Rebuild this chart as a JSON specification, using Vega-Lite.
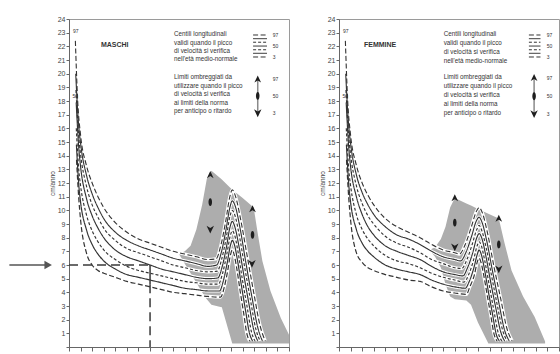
{
"$schema": "https://vega.github.io/schema/vega-lite/v6.json",
"padding": {"left": 8, "top": 14, "right": 2, "bottom": 0},
"background": "white",
"spacing": 28,
"config": {
 "view": {"stroke": "#9a9a9a", "strokeWidth": 1},
 "axis": {"grid": false, "domainColor": "#666", "tickColor": "#666", "labelColor": "#444", "labelFont": "Liberation Sans", "labelFontSize": 7, "titleFont": "Liberation Sans", "titleFontSize": 6.5, "titleFontWeight": "normal", "titleColor": "#444", "tickSize": 3, "labelPadding": 1, "titlePadding": 2}
},
"datasets": {
 "grey": [
  {"s":"M","a":9.5,"v":6.8,"v2":6.8},{"s":"M","a":10.0,"v":7.0,"v2":6.1},{"s":"M","a":10.5,"v":7.4,"v2":5.4},{"s":"M","a":11.0,"v":8.6,"v2":4.7},{"s":"M","a":11.5,"v":10.4,"v2":4.0},{"s":"M","a":11.9,"v":12.3,"v2":3.5},{"s":"M","a":12.3,"v":12.9,"v2":3.1},{"s":"M","a":13.0,"v":12.4,"v2":2.95},{"s":"M","a":13.2,"v":12.25,"v2":2.9},{"s":"M","a":14.1,"v":11.5,"v2":0.25},{"s":"M","a":15.0,"v":10.9,"v2":0.25},{"s":"M","a":15.95,"v":10.2,"v2":0.25},{"s":"M","a":16.3,"v":8.3,"v2":0.25},{"s":"M","a":16.7,"v":6.3,"v2":0.25},{"s":"M","a":17.4,"v":4.1,"v2":0.25},{"s":"M","a":18.3,"v":2.1,"v2":0.25},{"s":"M","a":19.0,"v":0.9,"v2":0.25},
  {"s":"F","a":7.8,"v":7.1,"v2":7.1},{"s":"F","a":8.3,"v":7.3,"v2":6.6},{"s":"F","a":8.8,"v":7.9,"v2":5.8},{"s":"F","a":9.2,"v":8.8,"v2":4.6},{"s":"F","a":9.6,"v":10.2,"v2":3.7},{"s":"F","a":10.0,"v":10.9,"v2":3.5},{"s":"F","a":11.0,"v":10.5,"v2":3.4},{"s":"F","a":11.4,"v":10.35,"v2":3.1},{"s":"F","a":12.0,"v":10.1,"v2":1.8},{"s":"F","a":12.9,"v":9.75,"v2":0.25},{"s":"F","a":13.8,"v":9.4,"v2":0.25},{"s":"F","a":14.3,"v":7.6,"v2":0.25},{"s":"F","a":14.9,"v":5.6,"v2":0.25},{"s":"F","a":15.9,"v":3.7,"v2":0.25},{"s":"F","a":16.9,"v":2.2,"v2":0.25},{"s":"F","a":17.8,"v":0.4,"v2":0.25}
 ],
 "curves": [
  {"s":"M","c":"97","a":0.55,"v":22.4},{"s":"M","c":"97","a":0.75,"v":18.0},{"s":"M","c":"97","a":1.0,"v":15.5},{"s":"M","c":"97","a":1.5,"v":13.3},{"s":"M","c":"97","a":2.0,"v":12.0},{"s":"M","c":"97","a":2.5,"v":11.0},{"s":"M","c":"97","a":3.0,"v":10.2},{"s":"M","c":"97","a":4.0,"v":9.1},{"s":"M","c":"97","a":5.0,"v":8.4},{"s":"M","c":"97","a":6.0,"v":7.9},{"s":"M","c":"97","a":7.0,"v":7.6},{"s":"M","c":"97","a":8.0,"v":7.3},{"s":"M","c":"97","a":9.0,"v":7.0},{"s":"M","c":"97","a":10.0,"v":6.8},{"s":"M","c":"97","a":11.0,"v":6.6},{"s":"M","c":"97","a":12.0,"v":6.4},{"s":"M","c":"97","a":12.7,"v":6.45},{"s":"M","c":"97","a":13.12,"v":7.46},{"s":"M","c":"97","a":13.54,"v":9.23},{"s":"M","c":"97","a":13.89,"v":11.0},{"s":"M","c":"97","a":14.1,"v":11.5},{"s":"M","c":"97","a":14.39,"v":11.0},{"s":"M","c":"97","a":14.81,"v":9.4},{"s":"M","c":"97","a":15.38,"v":6.7},{"s":"M","c":"97","a":15.95,"v":4.0},{"s":"M","c":"97","a":16.52,"v":1.5},{"s":"M","c":"97","a":16.95,"v":0.45},
  {"s":"M","c":"90","a":0.58,"v":20.0},{"s":"M","c":"90","a":0.8,"v":16.6},{"s":"M","c":"90","a":1.0,"v":14.9},{"s":"M","c":"90","a":1.5,"v":12.6},{"s":"M","c":"90","a":2.0,"v":11.2},{"s":"M","c":"90","a":2.5,"v":10.2},{"s":"M","c":"90","a":3.0,"v":9.4},{"s":"M","c":"90","a":4.0,"v":8.4},{"s":"M","c":"90","a":5.0,"v":7.8},{"s":"M","c":"90","a":6.0,"v":7.4},{"s":"M","c":"90","a":7.0,"v":7.1},{"s":"M","c":"90","a":8.0,"v":6.8},{"s":"M","c":"90","a":9.0,"v":6.5},{"s":"M","c":"90","a":10.0,"v":6.3},{"s":"M","c":"90","a":11.0,"v":6.1},{"s":"M","c":"90","a":12.0,"v":5.9},{"s":"M","c":"90","a":12.75,"v":6.0},{"s":"M","c":"90","a":13.16,"v":6.94},{"s":"M","c":"90","a":13.56,"v":8.59},{"s":"M","c":"90","a":13.9,"v":10.23},{"s":"M","c":"90","a":14.1,"v":10.7},{"s":"M","c":"90","a":14.36,"v":10.3},{"s":"M","c":"90","a":14.75,"v":8.8},{"s":"M","c":"90","a":15.27,"v":6.2},{"s":"M","c":"90","a":15.79,"v":3.7},{"s":"M","c":"90","a":16.31,"v":1.4},{"s":"M","c":"90","a":16.7,"v":0.45},
  {"s":"M","c":"75","a":0.6,"v":18.8},{"s":"M","c":"75","a":0.82,"v":15.6},{"s":"M","c":"75","a":1.0,"v":14.1},{"s":"M","c":"75","a":1.5,"v":11.8},{"s":"M","c":"75","a":2.0,"v":10.4},{"s":"M","c":"75","a":2.5,"v":9.5},{"s":"M","c":"75","a":3.0,"v":8.7},{"s":"M","c":"75","a":4.0,"v":7.8},{"s":"M","c":"75","a":5.0,"v":7.2},{"s":"M","c":"75","a":6.0,"v":6.9},{"s":"M","c":"75","a":7.0,"v":6.6},{"s":"M","c":"75","a":8.0,"v":6.3},{"s":"M","c":"75","a":9.0,"v":6.0},{"s":"M","c":"75","a":10.0,"v":5.8},{"s":"M","c":"75","a":11.0,"v":5.6},{"s":"M","c":"75","a":12.0,"v":5.5},{"s":"M","c":"75","a":12.8,"v":5.55},{"s":"M","c":"75","a":13.19,"v":6.44},{"s":"M","c":"75","a":13.58,"v":8.0},{"s":"M","c":"75","a":13.9,"v":9.56},{"s":"M","c":"75","a":14.1,"v":10.0},{"s":"M","c":"75","a":14.34,"v":9.6},{"s":"M","c":"75","a":14.7,"v":8.2},{"s":"M","c":"75","a":15.18,"v":5.8},{"s":"M","c":"75","a":15.66,"v":3.5},{"s":"M","c":"75","a":16.14,"v":1.3},{"s":"M","c":"75","a":16.5,"v":0.45},
  {"s":"M","c":"50","a":0.62,"v":17.9},{"s":"M","c":"50","a":0.85,"v":14.5},{"s":"M","c":"50","a":1.0,"v":13.2},{"s":"M","c":"50","a":1.5,"v":10.9},{"s":"M","c":"50","a":2.0,"v":9.6},{"s":"M","c":"50","a":2.5,"v":8.7},{"s":"M","c":"50","a":3.0,"v":8.0},{"s":"M","c":"50","a":4.0,"v":7.1},{"s":"M","c":"50","a":5.0,"v":6.6},{"s":"M","c":"50","a":6.0,"v":6.3},{"s":"M","c":"50","a":7.0,"v":6.0},{"s":"M","c":"50","a":8.0,"v":5.7},{"s":"M","c":"50","a":9.0,"v":5.5},{"s":"M","c":"50","a":10.0,"v":5.3},{"s":"M","c":"50","a":11.0,"v":5.1},{"s":"M","c":"50","a":12.0,"v":5.0},{"s":"M","c":"50","a":12.85,"v":5.05},{"s":"M","c":"50","a":13.23,"v":5.88},{"s":"M","c":"50","a":13.6,"v":7.33},{"s":"M","c":"50","a":13.91,"v":8.79},{"s":"M","c":"50","a":14.1,"v":9.2},{"s":"M","c":"50","a":14.32,"v":8.8},{"s":"M","c":"50","a":14.65,"v":7.5},{"s":"M","c":"50","a":15.09,"v":5.3},{"s":"M","c":"50","a":15.53,"v":3.2},{"s":"M","c":"50","a":15.97,"v":1.2},{"s":"M","c":"50","a":16.3,"v":0.45},
  {"s":"M","c":"25","a":0.63,"v":16.0},{"s":"M","c":"25","a":0.85,"v":12.9},{"s":"M","c":"25","a":1.0,"v":11.8},{"s":"M","c":"25","a":1.5,"v":9.7},{"s":"M","c":"25","a":2.0,"v":8.5},{"s":"M","c":"25","a":2.5,"v":7.7},{"s":"M","c":"25","a":3.0,"v":7.1},{"s":"M","c":"25","a":4.0,"v":6.4},{"s":"M","c":"25","a":5.0,"v":5.9},{"s":"M","c":"25","a":6.0,"v":5.6},{"s":"M","c":"25","a":7.0,"v":5.4},{"s":"M","c":"25","a":8.0,"v":5.2},{"s":"M","c":"25","a":9.0,"v":5.0},{"s":"M","c":"25","a":10.0,"v":4.8},{"s":"M","c":"25","a":11.0,"v":4.7},{"s":"M","c":"25","a":12.0,"v":4.6},{"s":"M","c":"25","a":12.9,"v":4.6},{"s":"M","c":"25","a":13.26,"v":5.38},{"s":"M","c":"25","a":13.62,"v":6.75},{"s":"M","c":"25","a":13.92,"v":8.11},{"s":"M","c":"25","a":14.1,"v":8.5},{"s":"M","c":"25","a":14.3,"v":8.2},{"s":"M","c":"25","a":14.59,"v":7.0},{"s":"M","c":"25","a":14.98,"v":4.9},{"s":"M","c":"25","a":15.37,"v":3.0},{"s":"M","c":"25","a":15.76,"v":1.1},{"s":"M","c":"25","a":16.05,"v":0.45},
  {"s":"M","c":"10","a":0.64,"v":14.8},{"s":"M","c":"10","a":0.85,"v":11.8},{"s":"M","c":"10","a":1.0,"v":10.6},{"s":"M","c":"10","a":1.5,"v":8.6},{"s":"M","c":"10","a":2.0,"v":7.5},{"s":"M","c":"10","a":2.5,"v":6.8},{"s":"M","c":"10","a":3.0,"v":6.3},{"s":"M","c":"10","a":4.0,"v":5.7},{"s":"M","c":"10","a":5.0,"v":5.3},{"s":"M","c":"10","a":6.0,"v":5.1},{"s":"M","c":"10","a":7.0,"v":4.9},{"s":"M","c":"10","a":8.0,"v":4.7},{"s":"M","c":"10","a":9.0,"v":4.5},{"s":"M","c":"10","a":10.0,"v":4.3},{"s":"M","c":"10","a":11.0,"v":4.2},{"s":"M","c":"10","a":12.0,"v":4.1},{"s":"M","c":"10","a":13.0,"v":4.1},{"s":"M","c":"10","a":13.33,"v":4.84},{"s":"M","c":"10","a":13.66,"v":6.14},{"s":"M","c":"10","a":13.94,"v":7.43},{"s":"M","c":"10","a":14.1,"v":7.8},{"s":"M","c":"10","a":14.28,"v":7.5},{"s":"M","c":"10","a":14.54,"v":6.4},{"s":"M","c":"10","a":14.89,"v":4.5},{"s":"M","c":"10","a":15.24,"v":2.7},{"s":"M","c":"10","a":15.59,"v":1.0},{"s":"M","c":"10","a":15.85,"v":0.45},
  {"s":"M","c":"3","a":0.65,"v":13.7},{"s":"M","c":"3","a":0.85,"v":10.8},{"s":"M","c":"3","a":1.0,"v":9.3},{"s":"M","c":"3","a":1.5,"v":6.9},{"s":"M","c":"3","a":2.0,"v":6.0},{"s":"M","c":"3","a":2.5,"v":5.6},{"s":"M","c":"3","a":3.0,"v":5.4},{"s":"M","c":"3","a":4.0,"v":5.1},{"s":"M","c":"3","a":5.0,"v":4.8},{"s":"M","c":"3","a":6.0,"v":4.6},{"s":"M","c":"3","a":7.0,"v":4.4},{"s":"M","c":"3","a":8.0,"v":4.2},{"s":"M","c":"3","a":9.0,"v":4.0},{"s":"M","c":"3","a":10.0,"v":3.9},{"s":"M","c":"3","a":11.0,"v":3.8},{"s":"M","c":"3","a":12.0,"v":3.7},{"s":"M","c":"3","a":13.1,"v":3.65},{"s":"M","c":"3","a":13.4,"v":4.34},{"s":"M","c":"3","a":13.7,"v":5.55},{"s":"M","c":"3","a":13.95,"v":6.76},{"s":"M","c":"3","a":14.1,"v":7.1},{"s":"M","c":"3","a":14.25,"v":6.8},{"s":"M","c":"3","a":14.48,"v":5.8},{"s":"M","c":"3","a":14.78,"v":4.1},{"s":"M","c":"3","a":15.08,"v":2.5},{"s":"M","c":"3","a":15.38,"v":0.9},{"s":"M","c":"3","a":15.6,"v":0.45},
  {"s":"F","c":"97","a":0.55,"v":22.4},{"s":"F","c":"97","a":0.75,"v":18.0},{"s":"F","c":"97","a":1.0,"v":15.5},{"s":"F","c":"97","a":1.5,"v":13.3},{"s":"F","c":"97","a":2.0,"v":12.0},{"s":"F","c":"97","a":2.5,"v":11.1},{"s":"F","c":"97","a":3.0,"v":10.4},{"s":"F","c":"97","a":4.0,"v":9.4},{"s":"F","c":"97","a":5.0,"v":8.8},{"s":"F","c":"97","a":6.0,"v":8.4},{"s":"F","c":"97","a":7.0,"v":8.0},{"s":"F","c":"97","a":8.0,"v":7.5},{"s":"F","c":"97","a":9.0,"v":7.1},{"s":"F","c":"97","a":10.0,"v":6.9},{"s":"F","c":"97","a":10.4,"v":6.8},{"s":"F","c":"97","a":10.9,"v":7.5},{"s":"F","c":"97","a":11.4,"v":8.7},{"s":"F","c":"97","a":11.85,"v":9.9},{"s":"F","c":"97","a":12.1,"v":10.2},{"s":"F","c":"97","a":12.39,"v":9.8},{"s":"F","c":"97","a":12.81,"v":8.4},{"s":"F","c":"97","a":13.38,"v":5.9},{"s":"F","c":"97","a":13.95,"v":3.6},{"s":"F","c":"97","a":14.52,"v":1.3},{"s":"F","c":"97","a":14.95,"v":0.45},
  {"s":"F","c":"90","a":0.58,"v":20.0},{"s":"F","c":"90","a":0.8,"v":16.6},{"s":"F","c":"90","a":1.0,"v":14.9},{"s":"F","c":"90","a":1.5,"v":12.6},{"s":"F","c":"90","a":2.0,"v":11.3},{"s":"F","c":"90","a":2.5,"v":10.4},{"s":"F","c":"90","a":3.0,"v":9.7},{"s":"F","c":"90","a":4.0,"v":8.8},{"s":"F","c":"90","a":5.0,"v":8.2},{"s":"F","c":"90","a":6.0,"v":7.9},{"s":"F","c":"90","a":7.0,"v":7.5},{"s":"F","c":"90","a":8.0,"v":7.0},{"s":"F","c":"90","a":9.0,"v":6.6},{"s":"F","c":"90","a":10.0,"v":6.4},{"s":"F","c":"90","a":10.5,"v":6.3},{"s":"F","c":"90","a":11.0,"v":7.0},{"s":"F","c":"90","a":11.45,"v":8.1},{"s":"F","c":"90","a":11.85,"v":9.2},{"s":"F","c":"90","a":12.1,"v":9.5},{"s":"F","c":"90","a":12.36,"v":9.1},{"s":"F","c":"90","a":12.75,"v":7.8},{"s":"F","c":"90","a":13.27,"v":5.5},{"s":"F","c":"90","a":13.79,"v":3.3},{"s":"F","c":"90","a":14.31,"v":1.2},{"s":"F","c":"90","a":14.7,"v":0.45},
  {"s":"F","c":"75","a":0.6,"v":18.8},{"s":"F","c":"75","a":0.82,"v":15.6},{"s":"F","c":"75","a":1.0,"v":14.1},{"s":"F","c":"75","a":1.5,"v":11.8},{"s":"F","c":"75","a":2.0,"v":10.5},{"s":"F","c":"75","a":2.5,"v":9.6},{"s":"F","c":"75","a":3.0,"v":9.0},{"s":"F","c":"75","a":4.0,"v":8.1},{"s":"F","c":"75","a":5.0,"v":7.6},{"s":"F","c":"75","a":6.0,"v":7.3},{"s":"F","c":"75","a":7.0,"v":6.9},{"s":"F","c":"75","a":8.0,"v":6.4},{"s":"F","c":"75","a":9.0,"v":6.1},{"s":"F","c":"75","a":10.0,"v":5.8},{"s":"F","c":"75","a":10.6,"v":5.75},{"s":"F","c":"75","a":11.05,"v":6.4},{"s":"F","c":"75","a":11.5,"v":7.5},{"s":"F","c":"75","a":11.9,"v":8.6},{"s":"F","c":"75","a":12.1,"v":8.9},{"s":"F","c":"75","a":12.34,"v":8.5},{"s":"F","c":"75","a":12.7,"v":7.3},{"s":"F","c":"75","a":13.18,"v":5.2},{"s":"F","c":"75","a":13.66,"v":3.1},{"s":"F","c":"75","a":14.14,"v":1.2},{"s":"F","c":"75","a":14.5,"v":0.45},
  {"s":"F","c":"50","a":0.62,"v":17.9},{"s":"F","c":"50","a":0.85,"v":14.5},{"s":"F","c":"50","a":1.0,"v":13.2},{"s":"F","c":"50","a":1.5,"v":11.0},{"s":"F","c":"50","a":2.0,"v":9.7},{"s":"F","c":"50","a":2.5,"v":8.8},{"s":"F","c":"50","a":3.0,"v":8.2},{"s":"F","c":"50","a":4.0,"v":7.4},{"s":"F","c":"50","a":5.0,"v":7.0},{"s":"F","c":"50","a":6.0,"v":6.7},{"s":"F","c":"50","a":7.0,"v":6.4},{"s":"F","c":"50","a":8.0,"v":5.9},{"s":"F","c":"50","a":9.0,"v":5.5},{"s":"F","c":"50","a":10.0,"v":5.3},{"s":"F","c":"50","a":10.7,"v":5.2},{"s":"F","c":"50","a":11.1,"v":5.8},{"s":"F","c":"50","a":11.55,"v":6.9},{"s":"F","c":"50","a":11.9,"v":8.0},{"s":"F","c":"50","a":12.1,"v":8.3},{"s":"F","c":"50","a":12.32,"v":8.0},{"s":"F","c":"50","a":12.65,"v":6.8},{"s":"F","c":"50","a":13.09,"v":4.8},{"s":"F","c":"50","a":13.53,"v":2.9},{"s":"F","c":"50","a":13.97,"v":1.1},{"s":"F","c":"50","a":14.3,"v":0.45},
  {"s":"F","c":"25","a":0.63,"v":16.0},{"s":"F","c":"25","a":0.85,"v":12.9},{"s":"F","c":"25","a":1.0,"v":11.8},{"s":"F","c":"25","a":1.5,"v":9.7},{"s":"F","c":"25","a":2.0,"v":8.6},{"s":"F","c":"25","a":2.5,"v":7.9},{"s":"F","c":"25","a":3.0,"v":7.4},{"s":"F","c":"25","a":4.0,"v":6.7},{"s":"F","c":"25","a":5.0,"v":6.3},{"s":"F","c":"25","a":6.0,"v":6.1},{"s":"F","c":"25","a":7.0,"v":5.8},{"s":"F","c":"25","a":8.0,"v":5.4},{"s":"F","c":"25","a":9.0,"v":5.1},{"s":"F","c":"25","a":10.0,"v":4.9},{"s":"F","c":"25","a":10.8,"v":4.75},{"s":"F","c":"25","a":11.2,"v":5.3},{"s":"F","c":"25","a":11.6,"v":6.3},{"s":"F","c":"25","a":11.95,"v":7.45},{"s":"F","c":"25","a":12.1,"v":7.7},{"s":"F","c":"25","a":12.3,"v":7.4},{"s":"F","c":"25","a":12.59,"v":6.3},{"s":"F","c":"25","a":12.98,"v":4.5},{"s":"F","c":"25","a":13.37,"v":2.7},{"s":"F","c":"25","a":13.76,"v":1.0},{"s":"F","c":"25","a":14.05,"v":0.45},
  {"s":"F","c":"10","a":0.64,"v":14.8},{"s":"F","c":"10","a":0.85,"v":11.8},{"s":"F","c":"10","a":1.0,"v":10.6},{"s":"F","c":"10","a":1.5,"v":8.6},{"s":"F","c":"10","a":2.0,"v":7.6},{"s":"F","c":"10","a":2.5,"v":7.0},{"s":"F","c":"10","a":3.0,"v":6.6},{"s":"F","c":"10","a":4.0,"v":6.0},{"s":"F","c":"10","a":5.0,"v":5.7},{"s":"F","c":"10","a":6.0,"v":5.5},{"s":"F","c":"10","a":7.0,"v":5.3},{"s":"F","c":"10","a":8.0,"v":4.9},{"s":"F","c":"10","a":9.0,"v":4.6},{"s":"F","c":"10","a":10.0,"v":4.4},{"s":"F","c":"10","a":10.9,"v":4.3},{"s":"F","c":"10","a":11.25,"v":4.8},{"s":"F","c":"10","a":11.65,"v":5.8},{"s":"F","c":"10","a":11.95,"v":6.8},{"s":"F","c":"10","a":12.1,"v":7.1},{"s":"F","c":"10","a":12.28,"v":6.8},{"s":"F","c":"10","a":12.54,"v":5.8},{"s":"F","c":"10","a":12.89,"v":4.1},{"s":"F","c":"10","a":13.24,"v":2.5},{"s":"F","c":"10","a":13.59,"v":0.9},{"s":"F","c":"10","a":13.85,"v":0.45},
  {"s":"F","c":"3","a":0.65,"v":13.7},{"s":"F","c":"3","a":0.85,"v":10.8},{"s":"F","c":"3","a":1.0,"v":9.3},{"s":"F","c":"3","a":1.5,"v":6.9},{"s":"F","c":"3","a":2.0,"v":6.2},{"s":"F","c":"3","a":2.5,"v":5.8},{"s":"F","c":"3","a":3.0,"v":5.6},{"s":"F","c":"3","a":4.0,"v":5.3},{"s":"F","c":"3","a":5.0,"v":5.1},{"s":"F","c":"3","a":6.0,"v":4.9},{"s":"F","c":"3","a":7.0,"v":4.8},{"s":"F","c":"3","a":8.0,"v":4.4},{"s":"F","c":"3","a":9.0,"v":4.1},{"s":"F","c":"3","a":10.0,"v":3.95},{"s":"F","c":"3","a":11.0,"v":3.85},{"s":"F","c":"3","a":11.3,"v":4.4},{"s":"F","c":"3","a":11.7,"v":5.3},{"s":"F","c":"3","a":11.95,"v":6.25},{"s":"F","c":"3","a":12.1,"v":6.5},{"s":"F","c":"3","a":12.26,"v":6.2},{"s":"F","c":"3","a":12.49,"v":5.3},{"s":"F","c":"3","a":12.8,"v":3.8},{"s":"F","c":"3","a":13.11,"v":2.3},{"s":"F","c":"3","a":13.42,"v":0.85},{"s":"F","c":"3","a":13.65,"v":0.45}
 ],
 "leg": [
  {"s":"M","c":"97","a":15.9,"a2":17.1,"v":22.83},{"s":"M","c":"90","a":15.9,"a2":17.1,"v":22.56},{"s":"M","c":"75","a":15.9,"a2":17.1,"v":22.3},{"s":"M","c":"50","a":15.9,"a2":17.1,"v":22.02},{"s":"M","c":"25","a":15.9,"a2":17.1,"v":21.75},{"s":"M","c":"10","a":15.9,"a2":17.1,"v":21.49},{"s":"M","c":"3","a":15.9,"a2":17.1,"v":21.22},
  {"s":"F","c":"97","a":16.4,"a2":17.4,"v":22.83},{"s":"F","c":"90","a":16.4,"a2":17.4,"v":22.56},{"s":"F","c":"75","a":16.4,"a2":17.4,"v":22.3},{"s":"F","c":"50","a":16.4,"a2":17.4,"v":22.02},{"s":"F","c":"25","a":16.4,"a2":17.4,"v":21.75},{"s":"F","c":"10","a":16.4,"a2":17.4,"v":21.49},{"s":"F","c":"3","a":16.4,"a2":17.4,"v":21.22}
 ],
 "rules": [
  {"s":"M","k":"refd","a":0,"a2":7.0,"v":6.0,"v2":6.0},
  {"s":"M","k":"refs","a":7.0,"a2":7.0,"v":6.0,"v2":4.6},
  {"s":"M","k":"refd","a":7.0,"a2":7.0,"v":4.6,"v2":0},
  {"s":"M","k":"shaft","a":-5.15,"a2":-1.9,"v":6.0,"v2":6.0},
  {"s":"M","k":"bar","a":16.3,"a2":16.3,"v":19.6,"v2":17.12},
  {"s":"F","k":"bar","a":16.85,"a2":16.85,"v":19.7,"v2":17.05}
 ],
 "marks": [
  {"s":"M","m":"A","a":12.2,"v":12.6},{"s":"M","m":"O","a":12.2,"v":10.6},{"s":"M","m":"V","a":12.2,"v":8.6},
  {"s":"M","m":"A","a":15.85,"v":10.1},{"s":"M","m":"O","a":15.85,"v":8.2},{"s":"M","m":"V","a":15.8,"v":6.1},
  {"s":"M","m":"A","a":16.3,"v":19.6},{"s":"M","m":"O","a":16.3,"v":18.37},{"s":"M","m":"V","a":16.3,"v":17.12},
  {"s":"M","m":"H","a":-1.8,"v":6.0},
  {"s":"F","m":"A","a":10.0,"v":10.9},{"s":"F","m":"O","a":10.0,"v":9.1},{"s":"F","m":"V","a":10.0,"v":7.3},
  {"s":"F","m":"A","a":13.8,"v":9.4},{"s":"F","m":"O","a":13.8,"v":7.5},{"s":"F","m":"V","a":13.8,"v":5.7},
  {"s":"F","m":"A","a":16.85,"v":19.7},{"s":"F","m":"O","a":16.85,"v":18.35},{"s":"F","m":"V","a":16.85,"v":17.05}
 ],
 "texts": [
  {"s":"M","k":"title","a":2.76,"v":22.1,"t":"MASCHI"},
  {"s":"M","k":"body","a":9.07,"v":22.9,"t":"Centili longitudinali"},
  {"s":"M","k":"body","a":9.07,"v":22.28,"t":"validi quando il picco"},
  {"s":"M","k":"body","a":9.07,"v":21.66,"t":"di velocità si verifica"},
  {"s":"M","k":"body","a":9.07,"v":21.04,"t":"nell'età medio-normale"},
  {"s":"M","k":"body","a":9.07,"v":19.76,"t":"Limiti ombreggiati da"},
  {"s":"M","k":"body","a":9.07,"v":19.13,"t":"utilizzare quando il picco"},
  {"s":"M","k":"body","a":9.07,"v":18.51,"t":"di velocità si verifica"},
  {"s":"M","k":"body","a":9.07,"v":17.89,"t":"ai limiti della norma"},
  {"s":"M","k":"body","a":9.07,"v":17.27,"t":"per anticipo o ritardo"},
  {"s":"M","k":"small","a":17.6,"v":22.83,"t":"97"},
  {"s":"M","k":"small","a":17.6,"v":22.02,"t":"50"},
  {"s":"M","k":"small","a":17.6,"v":21.22,"t":"3"},
  {"s":"M","k":"small","a":17.6,"v":19.6,"t":"97"},
  {"s":"M","k":"small","a":17.6,"v":18.37,"t":"50"},
  {"s":"M","k":"small","a":17.6,"v":17.12,"t":"3"},
  {"s":"M","k":"small","a":0.35,"v":23.1,"t":"97"},
  {"s":"M","k":"small","a":0.3,"v":18.4,"t":"50"},
  {"s":"F","k":"title","a":2.16,"v":22.1,"t":"FEMMINE"},
  {"s":"F","k":"body","a":9.04,"v":22.9,"t":"Centili longitudinali"},
  {"s":"F","k":"body","a":9.04,"v":22.25,"t":"validi quando il picco"},
  {"s":"F","k":"body","a":9.04,"v":21.6,"t":"di velocità si verifica"},
  {"s":"F","k":"body","a":9.04,"v":20.95,"t":"nell'età medio-normale"},
  {"s":"F","k":"body","a":9.04,"v":19.76,"t":"Limiti ombreggiati da"},
  {"s":"F","k":"body","a":9.04,"v":19.1,"t":"utilizzare quando il picco"},
  {"s":"F","k":"body","a":9.04,"v":18.43,"t":"di velocità si verifica"},
  {"s":"F","k":"body","a":9.04,"v":17.77,"t":"ai limiti della norma"},
  {"s":"F","k":"body","a":9.04,"v":17.12,"t":"per anticipo o ritardo"},
  {"s":"F","k":"small","a":17.95,"v":22.83,"t":"97"},
  {"s":"F","k":"small","a":17.95,"v":22.02,"t":"50"},
  {"s":"F","k":"small","a":17.95,"v":21.22,"t":"3"},
  {"s":"F","k":"small","a":17.95,"v":19.7,"t":"97"},
  {"s":"F","k":"small","a":17.95,"v":18.35,"t":"50"},
  {"s":"F","k":"small","a":17.95,"v":17.05,"t":"3"},
  {"s":"F","k":"small","a":0.35,"v":23.1,"t":"97"},
  {"s":"F","k":"small","a":0.3,"v":18.4,"t":"50"}
 ]
},
"hconcat": [
 {
  "width": 220, "height": 328,
  "encoding": {
   "x": {"field": "a", "type": "quantitative", "scale": {"domain": [0, 19], "nice": false, "zero": false}, "axis": {"values": [0,1,2,3,4,5,6,7,8,9,10,11,12,13,14,15,16,17,18,19], "labels": false, "title": null, "tickSize": 4}},
   "y": {"field": "v", "type": "quantitative", "scale": {"domain": [0, 24], "nice": false}, "axis": {"values": [0,1,2,3,4,5,6,7,8,9,10,11,12,13,14,15,16,17,18,19,20,21,22,23,24], "labelExpr": "datum.value == 0 ? '' : datum.label", "title": "cm/anno"}}
  },
  "resolve": {"scale": {"strokeDash": "independent", "strokeWidth": "independent", "stroke": "independent", "shape": "independent", "size": "independent", "fill": "independent"}},
  "layer": [
   {"data": {"name": "grey"}, "transform": [{"filter": "datum.s == 'M'"}], "mark": {"type": "area", "color": "#adadad"}, "encoding": {"y2": {"field": "v2"}}},
   {"data": {"name": "curves"}, "transform": [{"filter": "datum.s == 'M'"}], "mark": {"type": "line", "interpolate": "monotone", "color": "white", "strokeWidth": 3.2}, "encoding": {"detail": {"field": "c"}}},
   {"data": {"name": "curves"}, "transform": [{"filter": "datum.s == 'M'"}], "mark": {"type": "line", "interpolate": "monotone", "color": "#333"}, "encoding": {"detail": {"field": "c"}, "strokeDash": {"field": "c", "type": "nominal", "scale": {"domain": ["97","90","75","50","25","10","3"], "range": [[5,2.5],[1,0],[3,2],[1,0],[3,2],[1,0],[5,2.5]]}, "legend": null}, "strokeWidth": {"field": "c", "type": "nominal", "scale": {"domain": ["97","90","75","50","25","10","3"], "range": [1.1,1.2,1.1,1.5,1.1,1.2,1.1]}, "legend": null}}},
   {"data": {"name": "leg"}, "transform": [{"filter": "datum.s == 'M'"}], "mark": {"type": "rule", "color": "#333", "strokeWidth": 1}, "encoding": {"x2": {"field": "a2"}, "strokeDash": {"field": "c", "type": "nominal", "scale": {"domain": ["97","90","75","50","25","10","3"], "range": [[5,2.5],[1,0],[3,2],[1,0],[3,2],[1,0],[5,2.5]]}, "legend": null}}},
   {"data": {"name": "rules"}, "transform": [{"filter": "datum.s == 'M'"}], "mark": {"type": "rule"}, "encoding": {"x2": {"field": "a2"}, "y2": {"field": "v2"}, "strokeDash": {"field": "k", "type": "nominal", "scale": {"domain": ["refd","refs","shaft","bar"], "range": [[9,5],[1,0],[1,0],[1,0]]}, "legend": null}, "strokeWidth": {"field": "k", "type": "nominal", "scale": {"domain": ["refd","refs","shaft","bar"], "range": [1.5,1.5,5,1.5]}, "legend": null}, "stroke": {"field": "k", "type": "nominal", "scale": {"domain": ["refd","refs","shaft","bar"], "range": ["#3a3a3a","#3a3a3a","#555555","#8a8a8a"]}, "legend": null}}},
   {"data": {"name": "marks"}, "transform": [{"filter": "datum.s == 'M'"}], "mark": {"type": "point", "filled": true, "opacity": 1}, "encoding": {"shape": {"field": "m", "type": "nominal", "scale": {"domain": ["A","O","V","H"], "range": ["M0,-1L0.9,0.9L0,0.35L-0.9,0.9Z", "M0,-1C0.6,-1 0.6,1 0,1C-0.6,1 -0.6,-1 0,-1Z", "M0,1L0.9,-0.9L0,-0.35L-0.9,-0.9Z", "triangle-right"]}, "legend": null}, "size": {"field": "m", "type": "nominal", "scale": {"domain": ["A","O","V","H"], "range": [55,75,55,160]}, "legend": null}, "fill": {"field": "m", "type": "nominal", "scale": {"domain": ["A","O","V","H"], "range": ["#1e1e1e","#1e1e1e","#1e1e1e","#555555"]}, "legend": null}}},
   {"data": {"name": "texts"}, "transform": [{"filter": "datum.s == 'M' && datum.k == 'title'"}], "mark": {"type": "text", "align": "left", "baseline": "middle", "font": "Liberation Sans", "fontSize": 7, "fontWeight": "bold", "color": "#333"}, "encoding": {"text": {"field": "t"}}},
   {"data": {"name": "texts"}, "transform": [{"filter": "datum.s == 'M' && datum.k == 'body'"}], "mark": {"type": "text", "align": "left", "baseline": "middle", "font": "Liberation Sans", "fontSize": 6.3, "color": "#333"}, "encoding": {"text": {"field": "t"}}},
   {"data": {"name": "texts"}, "transform": [{"filter": "datum.s == 'M' && datum.k == 'small'"}], "mark": {"type": "text", "align": "left", "baseline": "middle", "font": "Liberation Sans", "fontSize": 5, "color": "#333"}, "encoding": {"text": {"field": "t"}}}
  ]
 },
 {
  "width": 220, "height": 328,
  "encoding": {
   "x": {"field": "a", "type": "quantitative", "scale": {"domain": [0, 19], "nice": false, "zero": false}, "axis": {"values": [0,1,2,3,4,5,6,7,8,9,10,11,12,13,14,15,16,17,18,19], "labels": false, "title": null, "tickSize": 4}},
   "y": {"field": "v", "type": "quantitative", "scale": {"domain": [0, 24], "nice": false}, "axis": {"values": [0,1,2,3,4,5,6,7,8,9,10,11,12,13,14,15,16,17,18,19,20,21,22,23,24], "labelExpr": "datum.value == 0 ? '' : datum.label", "title": "cm/anno"}}
  },
  "resolve": {"scale": {"strokeDash": "independent", "strokeWidth": "independent", "stroke": "independent", "shape": "independent", "size": "independent", "fill": "independent"}},
  "layer": [
   {"data": {"name": "grey"}, "transform": [{"filter": "datum.s == 'F'"}], "mark": {"type": "area", "color": "#adadad"}, "encoding": {"y2": {"field": "v2"}}},
   {"data": {"name": "curves"}, "transform": [{"filter": "datum.s == 'F'"}], "mark": {"type": "line", "interpolate": "monotone", "color": "white", "strokeWidth": 3.2}, "encoding": {"detail": {"field": "c"}}},
   {"data": {"name": "curves"}, "transform": [{"filter": "datum.s == 'F'"}], "mark": {"type": "line", "interpolate": "monotone", "color": "#333"}, "encoding": {"detail": {"field": "c"}, "strokeDash": {"field": "c", "type": "nominal", "scale": {"domain": ["97","90","75","50","25","10","3"], "range": [[5,2.5],[1,0],[3,2],[1,0],[3,2],[1,0],[5,2.5]]}, "legend": null}, "strokeWidth": {"field": "c", "type": "nominal", "scale": {"domain": ["97","90","75","50","25","10","3"], "range": [1.1,1.2,1.1,1.5,1.1,1.2,1.1]}, "legend": null}}},
   {"data": {"name": "leg"}, "transform": [{"filter": "datum.s == 'F'"}], "mark": {"type": "rule", "color": "#333", "strokeWidth": 1}, "encoding": {"x2": {"field": "a2"}, "strokeDash": {"field": "c", "type": "nominal", "scale": {"domain": ["97","90","75","50","25","10","3"], "range": [[5,2.5],[1,0],[3,2],[1,0],[3,2],[1,0],[5,2.5]]}, "legend": null}}},
   {"data": {"name": "rules"}, "transform": [{"filter": "datum.s == 'F'"}], "mark": {"type": "rule"}, "encoding": {"x2": {"field": "a2"}, "y2": {"field": "v2"}, "strokeDash": {"field": "k", "type": "nominal", "scale": {"domain": ["refd","refs","shaft","bar"], "range": [[9,5],[1,0],[1,0],[1,0]]}, "legend": null}, "strokeWidth": {"field": "k", "type": "nominal", "scale": {"domain": ["refd","refs","shaft","bar"], "range": [1.5,1.5,5,1.5]}, "legend": null}, "stroke": {"field": "k", "type": "nominal", "scale": {"domain": ["refd","refs","shaft","bar"], "range": ["#3a3a3a","#3a3a3a","#555555","#8a8a8a"]}, "legend": null}}},
   {"data": {"name": "marks"}, "transform": [{"filter": "datum.s == 'F'"}], "mark": {"type": "point", "filled": true, "opacity": 1}, "encoding": {"shape": {"field": "m", "type": "nominal", "scale": {"domain": ["A","O","V","H"], "range": ["M0,-1L0.9,0.9L0,0.35L-0.9,0.9Z", "M0,-1C0.6,-1 0.6,1 0,1C-0.6,1 -0.6,-1 0,-1Z", "M0,1L0.9,-0.9L0,-0.35L-0.9,-0.9Z", "triangle-right"]}, "legend": null}, "size": {"field": "m", "type": "nominal", "scale": {"domain": ["A","O","V","H"], "range": [55,75,55,160]}, "legend": null}, "fill": {"field": "m", "type": "nominal", "scale": {"domain": ["A","O","V","H"], "range": ["#1e1e1e","#1e1e1e","#1e1e1e","#555555"]}, "legend": null}}},
   {"data": {"name": "texts"}, "transform": [{"filter": "datum.s == 'F' && datum.k == 'title'"}], "mark": {"type": "text", "align": "left", "baseline": "middle", "font": "Liberation Sans", "fontSize": 7, "fontWeight": "bold", "color": "#333"}, "encoding": {"text": {"field": "t"}}},
   {"data": {"name": "texts"}, "transform": [{"filter": "datum.s == 'F' && datum.k == 'body'"}], "mark": {"type": "text", "align": "left", "baseline": "middle", "font": "Liberation Sans", "fontSize": 6.3, "color": "#333"}, "encoding": {"text": {"field": "t"}}},
   {"data": {"name": "texts"}, "transform": [{"filter": "datum.s == 'F' && datum.k == 'small'"}], "mark": {"type": "text", "align": "left", "baseline": "middle", "font": "Liberation Sans", "fontSize": 5, "color": "#333"}, "encoding": {"text": {"field": "t"}}}
  ]
 }
]
}
